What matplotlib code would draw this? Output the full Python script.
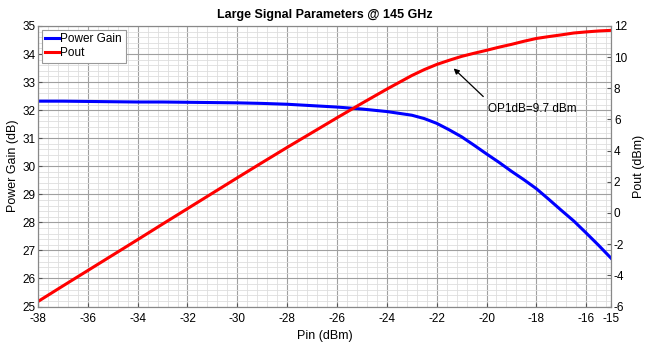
import matplotlib.pyplot as plt
import numpy as np
from matplotlib.ticker import MultipleLocator

plt.rcParams['font.family'] = ['Liberation Sans', 'DejaVu Sans']
plt.rcParams['axes.unicode_minus'] = False

# Data
pin = [-38, -37, -36, -35, -34, -33, -32, -31, -30, -29, -28, -27, -26, -25, -24, -23, -22.5, -22,
       -21.5, -21, -20.5, -20, -19.5, -19, -18.5, -18, -17.5, -17, -16.5, -16, -15.5, -15]
gain = [32.32, 32.32, 32.31, 32.30, 32.29, 32.29, 32.28, 32.27, 32.26, 32.24, 32.21, 32.16,
        32.11, 32.04, 31.95, 31.82, 31.70, 31.53, 31.30, 31.05, 30.75, 30.44, 30.14, 29.82,
        29.52, 29.20, 28.82, 28.43, 28.05, 27.62, 27.18, 26.72]
pout = [-5.68, -4.68, -3.69, -2.70, -1.71, -0.71, 0.28, 1.27, 2.26, 3.24, 4.21, 5.16,
        6.11, 7.04, 7.95, 8.82, 9.20, 9.53, 9.80, 10.05, 10.25, 10.44, 10.64, 10.82, 11.02,
        11.20, 11.32, 11.43, 11.55, 11.62, 11.68, 11.72]

fig = plt.figure(figsize=(6.46, 3.42), dpi=100)
ax = fig.add_axes([0.0588, 0.1038, 0.8872, 0.8202])
ax2 = ax.twinx()

l1, = ax.plot(pin, gain, color='#0000ff', lw=2.2, label='Power Gain')
l2, = ax2.plot(pin, pout, color='#ff0000', lw=2.2, label='Pout')

ax.set_xlim(-38, -15)
ax.set_ylim(25, 35)
ax2.set_ylim(-6, 12)
ax.set_xticks(list(range(-38, -15, 2)) + [-15])
ax.xaxis.set_minor_locator(MultipleLocator(0.4))
ax.yaxis.set_major_locator(MultipleLocator(1))
ax.yaxis.set_minor_locator(MultipleLocator(0.2))
ax2.yaxis.set_major_locator(MultipleLocator(2))

ax.grid(True, which='major', color='#a0a0a0', lw=0.8)
ax.grid(True, which='minor', color='#dedede', lw=0.6)
ax.set_axisbelow(True)

for a in (ax, ax2):
    a.tick_params(direction='in', labelsize=8.5, length=3, color='#555555', pad=2)
    a.tick_params(which='minor', length=0)
    for s in a.spines.values():
        s.set_color('#888888')
        s.set_linewidth(0.8)
ax.tick_params(axis='x', pad=5)

ax.set_xlabel('Pin (dBm)', fontsize=9, labelpad=3)
ax.set_ylabel('Power Gain (dB)', fontsize=9, labelpad=2)
ax2.set_ylabel('Pout (dBm)', fontsize=9, labelpad=4)
ax.set_title('Large Signal Parameters @ 145 GHz', fontsize=9, fontweight='bold', pad=6)

ax2.annotate('', xy=(-21.4, 9.4), xytext=(-20.05, 7.35),
             arrowprops=dict(arrowstyle='-|>', color='black', lw=0.9, mutation_scale=8))
ax2.text(-19.95, 6.7, 'OP1dB=9.7 dBm', fontsize=8.5, ha='left', va='center')

leg = ax.legend(handles=[l1, l2], loc='upper left', fontsize=8.5, handlelength=1.2,
                handletextpad=0.1, borderpad=0.3, labelspacing=0.2, fancybox=False,
                framealpha=1, edgecolor='#999999', borderaxespad=0.3)
leg.get_frame().set_linewidth(0.8)

fig.savefig('out.png', dpi=100)
